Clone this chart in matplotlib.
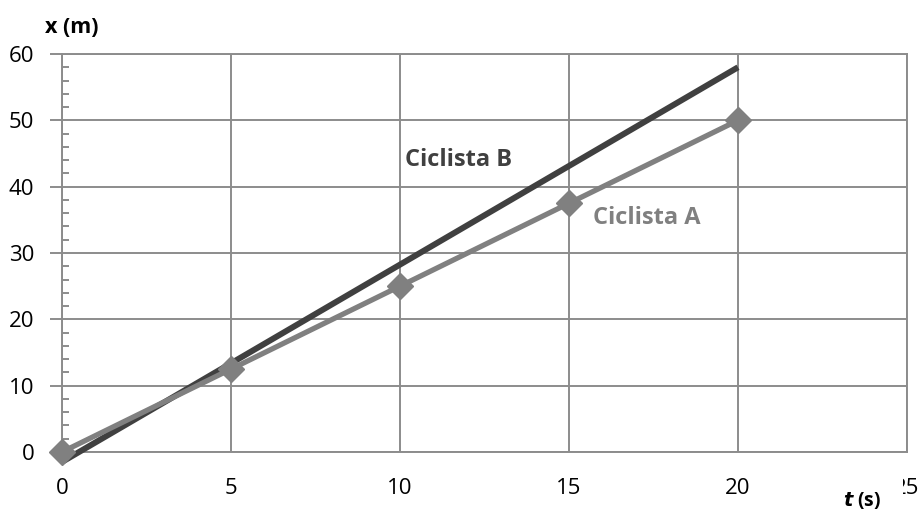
import matplotlib
matplotlib.use('Agg')
import matplotlib.pyplot as plt
from matplotlib.ticker import MultipleLocator
from matplotlib.patches import Rectangle

# Ciclista A: measured points
t_a = [0, 5, 10, 15, 20]
x_a = [0, 12.5, 25, 37.5, 50]

# Ciclista B: straight line endpoints
t_b = [0, 20]
x_b = [-1.5, 58]

x_ticks = [0, 5, 10, 15, 20, 25]
y_ticks = [0, 10, 20, 30, 40, 50, 60]

plt.rcParams['font.family'] = ['Open Sans', 'DejaVu Sans']

fig = plt.figure(figsize=(9.24, 5.13), dpi=100)
ax = fig.add_axes([0.0671, 0.1189, 0.9145, 0.7758])

grid_c = '#8c8c8c'
ax.set_xlim(0, 25)
ax.set_ylim(0, 60)
ax.set_xticks(x_ticks)
ax.set_yticks(y_ticks)
ax.yaxis.set_minor_locator(MultipleLocator(2))
ax.grid(True, which='major', color=grid_c, linewidth=1.4)
ax.set_axisbelow(True)
for s in ax.spines.values():
    s.set_color(grid_c)
    s.set_linewidth(1.4)

ax.tick_params(axis='y', which='major', direction='out', length=9, width=1.4,
               color=grid_c, labelsize=16, pad=11)
ax.tick_params(axis='y', which='minor', direction='in', length=5, width=1.4,
               color=grid_c)
ax.tick_params(axis='x', which='major', length=0, labelsize=16, pad=19)

ax.plot(t_b, x_b, color='#404040', linewidth=4.3, solid_capstyle='butt',
        clip_on=False, zorder=3)
ax.plot(t_a, x_a, color='#808080', linewidth=3.8, marker='D', markersize=13,
        clip_on=False, zorder=4)

ax.text(10.15, 44, 'Ciclista B', color='#404040', fontsize=17,
        fontweight='bold', va='center', ha='left')
ax.text(15.7, 35.3, 'Ciclista A', color='#808080', fontsize=17,
        fontweight='bold', va='center', ha='left')

fig.text(0.049, 0.947, 'x (m)', fontsize=15.5, fontweight='bold',
         va='center', ha='left')

# white box behind the axis title, hiding part of the "25" tick label
fig.add_artist(Rectangle((0.905, 0.0), 0.0725, 0.075, transform=fig.transFigure,
                         facecolor='white', edgecolor='none', zorder=5))
fig.text(0.912, 0.024, r'$\mathbfit{t}$ (s)', fontsize=14, fontweight='bold',
         va='center', ha='left', zorder=6)

fig.savefig('out.png', dpi=100)
